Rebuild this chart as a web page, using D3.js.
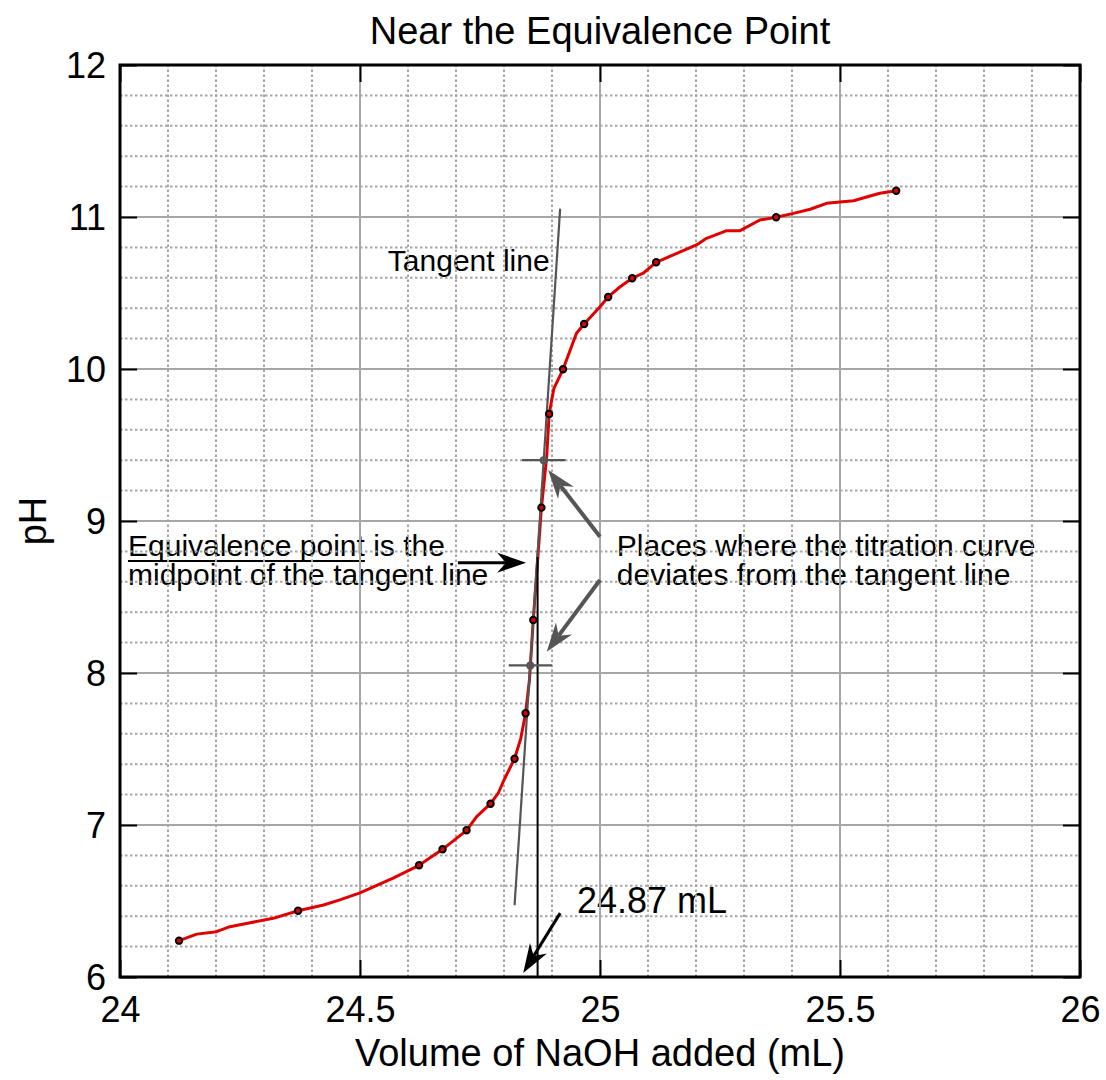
<!DOCTYPE html>
<html>
<head>
<meta charset="utf-8">
<script src="https://cdn.jsdelivr.net/npm/d3@7"></script>
<style>
    body { margin: 0; background: #fff; }
    svg { font-family: "Liberation Sans", Arial, Helvetica, sans-serif; }
</style>
</head>
<body>
<svg id="chart" width="1106" height="1080"></svg>
<script>
// marked titration points (mL, pH)
var volume = [24.123, 24.371, 24.623, 24.672, 24.722, 24.772, 24.822, 24.845, 24.861, 24.878, 24.894, 24.923, 24.967, 25.017, 25.067, 25.117, 25.367, 25.617];
var pH = [6.239, 6.436, 6.735, 6.840, 6.965, 7.140, 7.436, 7.735, 8.349, 9.088, 9.704, 9.998, 10.296, 10.474, 10.597, 10.702, 10.998, 11.173];

var curveVolume = [24.123, 24.160, 24.201, 24.229, 24.271, 24.319, 24.371, 24.424, 24.458, 24.500, 24.569, 24.623, 24.672, 24.722, 24.743, 24.772, 24.788, 24.800, 24.822, 24.835, 24.845, 24.853, 24.861, 24.878, 24.889, 24.894, 24.904, 24.923, 24.951, 24.967, 25.000, 25.017, 25.042, 25.067, 25.090, 25.117, 25.160, 25.201, 25.222, 25.264, 25.292, 25.333, 25.367, 25.403, 25.438, 25.472, 25.528, 25.583, 25.617];
var curvePH = [6.239, 6.282, 6.298, 6.331, 6.357, 6.386, 6.436, 6.474, 6.507, 6.553, 6.651, 6.735, 6.840, 6.965, 7.055, 7.140, 7.209, 7.296, 7.436, 7.570, 7.735, 7.954, 8.349, 9.088, 9.423, 9.704, 9.873, 9.998, 10.235, 10.296, 10.410, 10.474, 10.541, 10.597, 10.630, 10.702, 10.761, 10.816, 10.860, 10.910, 10.910, 10.980, 10.998, 11.024, 11.051, 11.090, 11.107, 11.156, 11.173];

var xTicks = [24, 24.5, 25, 25.5, 26];
var xTickLabels = ["24", "24.5", "25", "25.5", "26"];
var yTicks = [6, 7, 8, 9, 10, 11, 12];

// tangent line ends and the two deviation points on it
var tangentX = [24.822, 24.917];
var tangentY = [6.472, 11.055];
var deviationX = [24.8547, 24.8827];
var deviationY = [8.05, 9.40];
var equivalenceVolume = 24.87;

var svg = d3.select("#chart");

var margin = {top: 65, right: 26, bottom: 103, left: 120},
    width = +svg.attr("width") - margin.left - margin.right,
    height = +svg.attr("height") - margin.top - margin.bottom;

var x = d3.scaleLinear().domain([24, 26]).range([margin.left, margin.left + width]);
var y = d3.scaleLinear().domain([6, 12]).range([margin.top + height, margin.top]);

var grey = "#555";
var gridGrey = "#a6a6a6";
var red = "#e00000";

// annotation text (drawn under the grid like the original)
var notes = svg.append("g").attr("font-size", 30).attr("fill", "#000");
notes.append("text").attr("x", x(24.558)).attr("y", y(10.647)).text("Tangent line");
var eqText = notes.append("text").attr("x", x(24.0167)).attr("y", y(8.770)).text("Equivalence point is the");
var eqLen = eqText.node().getSubStringLength(0, 17);
notes.append("line")
    .attr("x1", x(24.0167)).attr("x2", x(24.0167) + eqLen)
    .attr("y1", y(8.770) + 5).attr("y2", y(8.770) + 5)
    .attr("stroke", "#000").attr("stroke-width", 2);
notes.append("text").attr("x", x(24.0167)).attr("y", y(8.579)).text("midpoint of the tangent line");
notes.append("text").attr("x", x(25.035)).attr("y", y(8.770)).text("Places where the titration curve");
notes.append("text").attr("x", x(25.035)).attr("y", y(8.579)).text("deviates from the tangent line");
notes.append("text").attr("x", x(24.952)).attr("y", y(6.421)).attr("font-size", 36).text("24.87 mL");

// minor grid (dotted)
var minorX = d3.range(24.1, 26, 0.1).filter(function(v){ return Math.abs(v*2 - Math.round(v*2)) > 0.01; });
var minorY = d3.range(6.2, 12, 0.2).filter(function(v){ return Math.abs(v - Math.round(v)) > 0.01; });
var grid = svg.append("g");
grid.selectAll(".mx").data(minorX).enter().append("line")
    .attr("x1", function(d){ return x(d); }).attr("x2", function(d){ return x(d); })
    .attr("y1", y(6)).attr("y2", y(12))
    .attr("stroke", gridGrey).attr("stroke-width", 2).attr("stroke-dasharray", "2.5,2.5");
grid.selectAll(".my").data(minorY).enter().append("line")
    .attr("y1", function(d){ return y(d); }).attr("y2", function(d){ return y(d); })
    .attr("x1", x(24)).attr("x2", x(26))
    .attr("stroke", gridGrey).attr("stroke-width", 2).attr("stroke-dasharray", "2.5,2.5");
// major grid (solid)
grid.selectAll(".Mx").data(xTicks.slice(1, -1)).enter().append("line")
    .attr("x1", function(d){ return x(d); }).attr("x2", function(d){ return x(d); })
    .attr("y1", y(6)).attr("y2", y(12))
    .attr("stroke", gridGrey).attr("stroke-width", 2);
grid.selectAll(".My").data(yTicks.slice(1, -1)).enter().append("line")
    .attr("y1", function(d){ return y(d); }).attr("y2", function(d){ return y(d); })
    .attr("x1", x(24)).attr("x2", x(26))
    .attr("stroke", gridGrey).attr("stroke-width", 2);

// axes with mirrored inward ticks
var xAxisB = d3.axisBottom(x).tickValues(xTicks).tickFormat(function(d, i){ return xTickLabels[i]; }).tickSizeInner(-17).tickSizeOuter(0).tickPadding(19);
var xAxisT = d3.axisTop(x).tickValues(xTicks).tickFormat("").tickSizeInner(-17).tickSizeOuter(0);
var yAxisL = d3.axisLeft(y).tickValues(yTicks).tickFormat(d3.format("d")).tickSizeInner(-17).tickSizeOuter(0).tickPadding(14);
var yAxisR = d3.axisRight(y).tickValues(yTicks).tickFormat("").tickSizeInner(-17).tickSizeOuter(0);

function styleAxis(g){
    g.select(".domain").remove();
    g.selectAll("line").attr("stroke", "#000").attr("stroke-width", 2);
    g.selectAll("text").attr("font-size", 36).attr("fill", "#000")
        .attr("font-family", "'Liberation Sans', Arial, sans-serif");
}
svg.append("g").attr("transform", "translate(0," + y(6) + ")").call(xAxisB).call(styleAxis);
svg.append("g").attr("transform", "translate(0," + y(12) + ")").call(xAxisT).call(styleAxis);
svg.append("g").attr("transform", "translate(" + x(24) + ",0)").call(yAxisL).call(styleAxis)
    .selectAll("text").attr("dy", "0.36em");
svg.append("g").attr("transform", "translate(" + x(26) + ",0)").call(yAxisR).call(styleAxis);

svg.append("rect")
    .attr("x", x(24)).attr("y", y(12)).attr("width", x(26) - x(24)).attr("height", y(6) - y(12))
    .attr("fill", "none").attr("stroke", "#000").attr("stroke-width", 3);

// titles
svg.append("text").attr("x", x(25)).attr("y", 44).attr("text-anchor", "middle")
    .attr("font-size", 38).text("Near the Equivalence Point");
svg.append("text").attr("x", x(25)).attr("y", 1066).attr("text-anchor", "middle")
    .attr("font-size", 38).text("Volume of NaOH added (mL)");
svg.append("text").attr("transform", "translate(46," + y(9) + ") rotate(-90)")
    .attr("text-anchor", "middle").attr("font-size", 38).text("pH");

var points = volume.map(function(v, i){ return {v: v, p: pH[i]}; });
var curve = curveVolume.map(function(v, i){ return {v: v, p: curvePH[i]}; });

// titration curve
var line = d3.line()
    .x(function(d){ return x(d.v); })
    .y(function(d){ return y(d.p); });
svg.append("path").datum(curve).attr("d", line)
    .attr("fill", "none").attr("stroke", red).attr("stroke-width", 3)
    .attr("stroke-linejoin", "round");

// tangent line
svg.append("line")
    .attr("x1", x(tangentX[0])).attr("y1", y(tangentY[0]))
    .attr("x2", x(tangentX[1])).attr("y2", y(tangentY[1]))
    .attr("stroke", grey).attr("stroke-width", 2.2);

// vertical from tangent midpoint down to the axis
svg.append("line")
    .attr("x1", x(equivalenceVolume)).attr("x2", x(equivalenceVolume))
    .attr("y1", y((tangentY[0] + tangentY[1]) / 2)).attr("y2", y(6))
    .attr("stroke", "#000").attr("stroke-width", 2);

// deviation crosshairs
deviationX.forEach(function(d, i){
    svg.append("line")
        .attr("x1", x(d - 0.045)).attr("x2", x(d + 0.045))
        .attr("y1", y(deviationY[i])).attr("y2", y(deviationY[i]))
        .attr("stroke", grey).attr("stroke-width", 2.2);
    svg.append("circle").attr("cx", x(d)).attr("cy", y(deviationY[i])).attr("r", 3)
        .attr("fill", "none").attr("stroke", grey).attr("stroke-width", 2);
});

// data markers
svg.selectAll(".pt").data(points).enter().append("circle")
    .attr("cx", function(d){ return x(d.v); })
    .attr("cy", function(d){ return y(d.p); })
    .attr("r", 3.2)
    .attr("fill", red).attr("stroke", "#000").attr("stroke-width", 2);

// arrows
function arrow(x0, y0, x1, y1, color, w){
    var ax = x(x0), ay = y(y0), bx = x(x1), by = y(y1);
    var ang = Math.atan2(by - ay, bx - ax);
    var len = 29, half = 10, notch = 20;
    var c = Math.cos(ang), s = Math.sin(ang);
    var bxL = bx - len*c + half*s, byL = by - len*s - half*c;
    var bxR = bx - len*c - half*s, byR = by - len*s + half*c;
    var nx = bx - notch*c, ny = by - notch*s;
    svg.append("line").attr("x1", ax).attr("y1", ay).attr("x2", nx).attr("y2", ny)
        .attr("stroke", color).attr("stroke-width", w);
    svg.append("path")
        .attr("d", "M" + bx + "," + by + "L" + bxL + "," + byL + "L" + nx + "," + ny + "L" + bxR + "," + byR + "Z")
        .attr("fill", color);
}
arrow(24.704, 8.726, 24.846, 8.726, "#000", 3);
arrow(25.0, 8.897, 24.892, 9.336, grey, 4);
arrow(25.0, 8.612, 24.889, 8.140, grey, 4);
arrow(24.917, 6.42, 24.840, 6.027, "#000", 3);
</script>
</body>
</html>
